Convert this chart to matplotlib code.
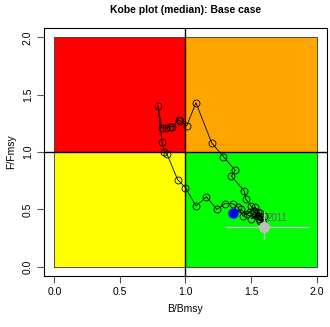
import numpy as np
import matplotlib
matplotlib.use("Agg")
import matplotlib.pyplot as plt
from matplotlib.patches import Rectangle

plt.rcParams['font.family'] = ['Liberation Sans', 'DejaVu Sans']

# median trajectory
BBmsy = [1.36, 1.42, 1.47, 1.52, 1.55, 1.50, 1.57, 1.53, 1.49, 1.44, 1.40, 1.36,
         1.30, 1.24, 1.16, 1.08, 1.00, 0.94, 0.86, 0.84, 0.82, 0.79, 0.82, 0.85,
         0.88, 0.90, 0.95, 0.96, 1.01, 1.08, 1.20, 1.29, 1.38, 1.35, 1.45, 1.46,
         1.50, 1.55, 1.58, 1.53, 1.57, 1.60, 1.56, 1.59]
FFmsy = [0.47, 0.50, 0.46, 0.49, 0.44, 0.42, 0.47, 0.52, 0.48, 0.44, 0.52, 0.55,
         0.55, 0.50, 0.61, 0.53, 0.69, 0.76, 0.98, 1.00, 1.09, 1.40, 1.21, 1.21,
         1.22, 1.22, 1.28, 1.27, 1.23, 1.43, 1.08, 0.96, 0.84, 0.79, 0.66, 0.59,
         0.53, 0.48, 0.43, 0.45, 0.40, 0.44, 0.42, 0.38]

LastYear = "2011"
LastB = 1.60
LastF = 0.35
CI_B = [1.31, 1.94]
CI_F = [0.24, 0.48]

Ticks = [0.0, 0.5, 1.0, 1.5, 2.0]
TickLabels = ["0.0", "0.5", "1.0", "1.5", "2.0"]

fig = plt.figure(figsize=(3.30, 3.27), dpi=100)
ax = fig.add_axes([0.133, 0.156, 0.858, 0.758])

# kobe quadrants
quads = [((0, 1), "#FF0000"), ((1, 1), "#FFA500"), ((0, 0), "#FFFF00"), ((1, 0), "#00FF00")]
for (x0, y0), col in quads:
    ax.add_patch(Rectangle((x0, y0), 1, 1, facecolor=col, edgecolor="#333333", lw=0.6, zorder=1))
ax.axhline(1, color="black", lw=1.0, zorder=2)
ax.axvline(1, color="black", lw=1.0, zorder=2)

ax.plot(BBmsy, FFmsy, color="black", lw=0.6, marker="o", ms=5, mfc="none", mec="black", mew=0.6, zorder=3)
ax.plot(BBmsy[0], FFmsy[0], "o", color="blue", ms=6.5, zorder=4)

ax.plot(CI_B, [LastF, LastF], color="#BEBEBE", lw=1.0, zorder=4)
ax.plot([LastB, LastB], CI_F, color="#BEBEBE", lw=1.0, zorder=4)
ax.plot(LastB, LastF, "o", color="#BEBEBE", ms=7, zorder=5)
ax.text(LastB + 0.02, LastF + 0.03, LastYear, color="#666666", fontsize=7, va="bottom", ha="left", zorder=5)

ax.set_xlim(-0.08, 2.08)
ax.set_ylim(-0.08, 2.08)
ax.set_xticks(Ticks)
ax.set_xticklabels(TickLabels)
ax.set_yticks(Ticks)
ax.set_yticklabels(TickLabels, rotation=90, va="center")
ax.tick_params(direction="out", length=5, width=0.8, color="#555555", labelsize=7.5, pad=3)
for s in ax.spines.values():
    s.set_linewidth(0.8)

ax.set_xlabel("B/Bmsy", fontsize=7.5, labelpad=5)
ax.set_ylabel("F/Fmsy", fontsize=7.5, labelpad=5)
ax.set_title("Kobe plot (median): Base case", fontsize=7.5, fontweight="bold", pad=11)

plt.savefig("out.png", dpi=100)
